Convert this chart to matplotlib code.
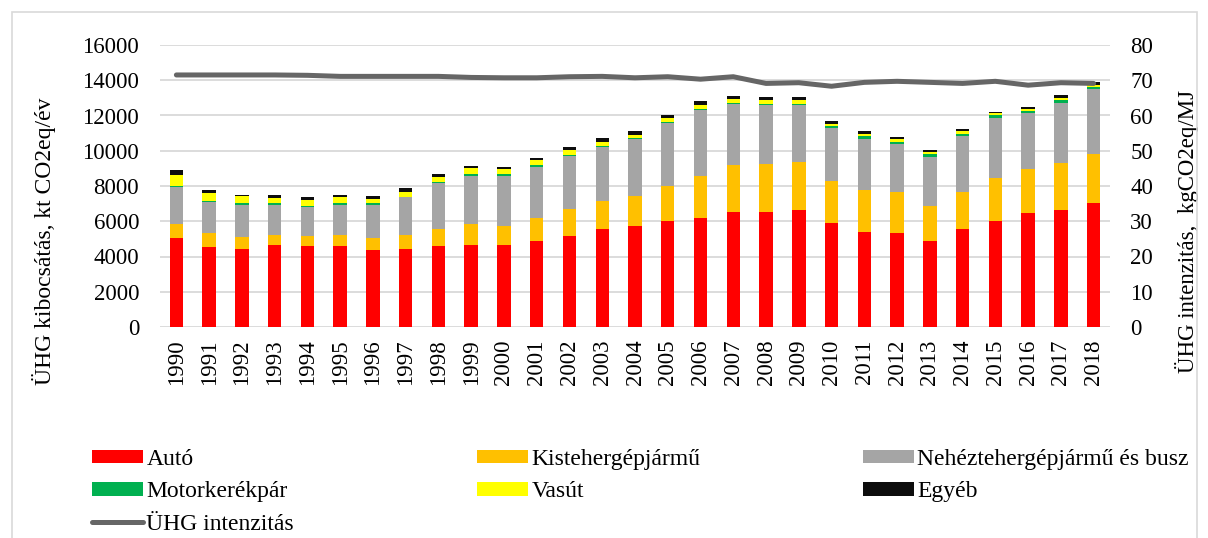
import matplotlib
matplotlib.use("Agg")
import matplotlib.pyplot as plt
import numpy as np
from matplotlib.patches import Patch, Rectangle
from matplotlib.lines import Line2D

plt.rcParams['font.family'] = ['Liberation Serif', 'DejaVu Serif']

years = [str(y) for y in range(1990, 2019)]

auto = [5030, 4520, 4440, 4650, 4580, 4580, 4370, 4440, 4580, 4650, 4650, 4880, 5180, 5540, 5750,
        6030, 6185, 6540, 6540, 6620, 5880, 5370, 5315, 4880, 5540, 6030, 6470, 6620, 7050]
kisteher = [810, 795, 650, 590, 585, 660, 660, 800, 960, 1175, 1100, 1320, 1515, 1590, 1680,
            1970, 2400, 2630, 2710, 2760, 2405, 2400, 2325, 1965, 2100, 2425, 2475, 2685, 2765]
nehez = [2080, 1760, 1850, 1700, 1625, 1700, 1910, 2120, 2610, 2760, 2835, 2895, 2990, 3065, 3220,
         3575, 3710, 3480, 3350, 3220, 2985, 2920, 2760, 2820, 3215, 3420, 3215, 3420, 3690]
motor = [90, 75, 80, 80, 75, 80, 80, 40, 95, 75, 75, 75, 75, 75, 75,
         75, 75, 75, 70, 70, 135, 150, 115, 150, 75, 135, 115, 135, 95]
vasut = [590, 470, 395, 320, 340, 340, 260, 280, 285, 360, 285, 290, 280, 210, 185,
         210, 210, 210, 190, 190, 130, 130, 135, 130, 190, 115, 75, 150, 130]
egyeb = [285, 170, 95, 170, 155, 150, 150, 190, 150, 130, 150, 150, 155, 225, 230,
         150, 225, 155, 170, 170, 170, 170, 130, 95, 95, 90, 150, 170, 190]
intenzitas = [71.5, 71.5, 71.5, 71.5, 71.4, 71.1, 71.1, 71.1, 71.1, 70.8, 70.7, 70.7, 71.0, 71.1, 70.7,
              71.0, 70.3, 71.0, 69.1, 69.3, 68.3, 69.4, 69.7, 69.4, 69.1, 69.7, 68.6, 69.3, 69.1]

series = [
    ("Autó", auto, "#FF0000"),
    ("Kistehergépjármű", kisteher, "#FFC000"),
    ("Nehéztehergépjármű és busz", nehez, "#A5A5A5"),
    ("Motorkerékpár", motor, "#00B050"),
    ("Vasút", vasut, "#FFFF00"),
    ("Egyéb", egyeb, "#0D0D0D"),
]
line_color = "#666666"

fig = plt.figure(figsize=(12.08, 5.38), dpi=100)
ax = fig.add_axes([160 / 1208, 1 - 327 / 538, 950 / 1208, 282 / 538])

x = np.arange(len(years))
bottom = np.zeros(len(years))
for name, vals, col in series:
    ax.bar(x, vals, width=0.41, bottom=bottom, color=col, zorder=3)
    bottom += np.array(vals)

ax.set_xlim(-0.5, len(years) - 0.5)
ax.set_ylim(0, 16000)
ax.set_yticks(range(0, 16001, 2000))
ax.set_xticks(x)
ax.set_xticklabels(years, rotation=90, fontsize=16.5)
ax.tick_params(axis='y', labelsize=16.5, length=0, pad=15)
ax.tick_params(axis='x', length=0, pad=9)
ax.grid(axis='y', color='#D9D9D9', linewidth=1.3, zorder=0)
for s in ax.spines.values():
    s.set_visible(False)
ax.set_ylabel("ÜHG kibocsátás, kt CO2eq/év", fontsize=17)
ax.yaxis.set_label_coords(-0.109, 0.305)

ax2 = ax.twinx()
ax2.plot(x, intenzitas, color=line_color, linewidth=3.6, solid_joinstyle='round',
         solid_capstyle='round', zorder=4)
ax2.set_ylim(0, 80)
ax2.set_yticks(range(0, 81, 10))
ax2.tick_params(axis='y', labelsize=16.5, length=0, pad=14.5)
for s in ax2.spines.values():
    s.set_visible(False)
ax2.set_ylabel("ÜHG intenzitás,  kgCO2eq/MJ", fontsize=16.5)
ax2.yaxis.set_label_coords(1.068, 0.34)

# legend, three columns placed separately
h = {name: Patch(facecolor=col, edgecolor='none') for name, _, col in series}
hl = Line2D([], [], color=line_color, linewidth=3.6, solid_capstyle='round')
cols = [
    (92, [(h["Autó"], "Autó"), (h["Motorkerékpár"], "Motorkerékpár"), (hl, "ÜHG intenzitás")]),
    (477, [(h["Kistehergépjármű"], "Kistehergépjármű"), (h["Vasút"], "Vasút")]),
    (863, [(h["Nehéztehergépjármű és busz"], "Nehéztehergépjármű és busz"), (h["Egyéb"], "Egyéb")]),
]
for xpx, items in cols:
    leg = fig.legend([i[0] for i in items], [i[1] for i in items],
                     loc='upper left', bbox_to_anchor=(xpx / 1208, 1 - 449 / 538),
                     frameon=False, fontsize=17, handlelength=2.15, handleheight=0.5,
                     handletextpad=0.15, labelspacing=0.48, borderpad=0, borderaxespad=0)

# light frame around chart area
fig.patches.append(Rectangle((12 / 1208, -0.05), 1185 / 1208, 1 - 12 / 538 + 0.05,
                             transform=fig.transFigure, fill=False,
                             edgecolor='#D9D9D9', linewidth=1.2))

fig.savefig("out.png", dpi=100)
